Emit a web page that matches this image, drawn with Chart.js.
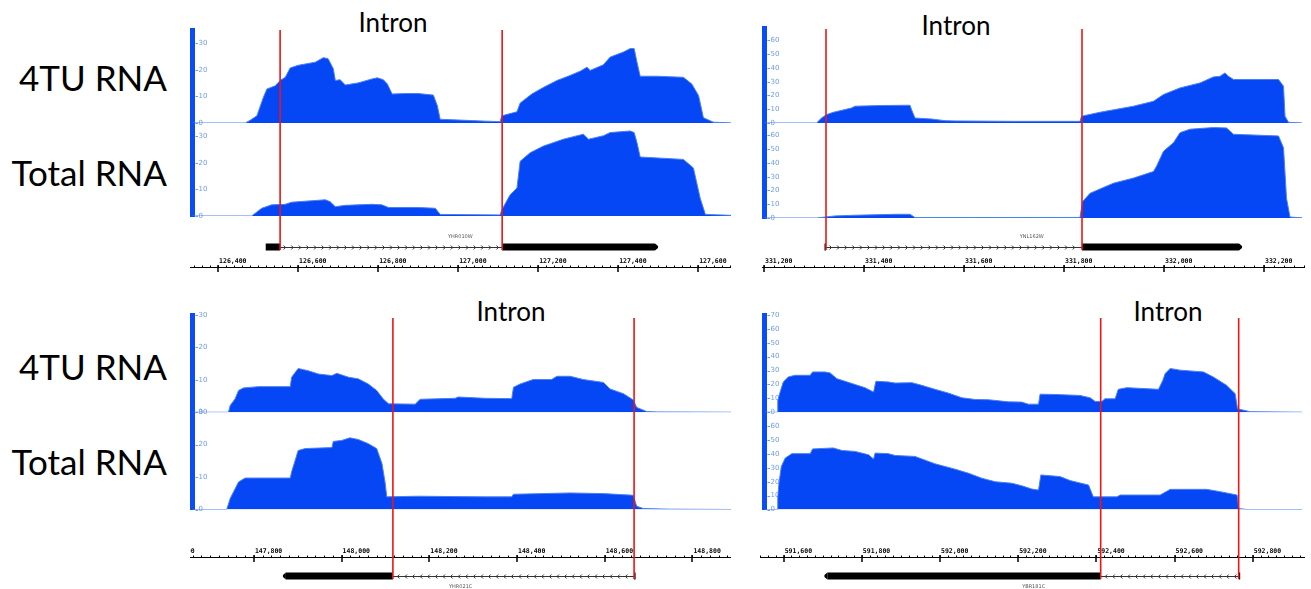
<!DOCTYPE html>
<html>
<head>
<meta charset="utf-8">
<script src="https://cdn.jsdelivr.net/npm/chart.js@4.4.1/dist/chart.umd.min.js"></script>
<style>
  html, body { margin: 0; padding: 0; background: #fff; }
  body { width: 1311px; height: 589px; position: relative; overflow: hidden; font-family: Lato, "Open Sans", sans-serif; }
  canvas { position: absolute; }
  .side { position: absolute; font-size: 35px; line-height: 36px; color: #000; white-space: nowrap; text-align: right; }
  .intron { position: absolute; font-size: 26px; line-height: 26px; color: #000; white-space: nowrap; transform: translateX(-50%); }
</style>
</head>
<body>
<div class="side" style="right:1144px;top:59px">4TU RNA</div>
<div class="side" style="right:1144px;top:154px">Total RNA</div>
<div class="side" style="right:1144px;top:348px">4TU RNA</div>
<div class="side" style="right:1144px;top:443px">Total RNA</div>
<div class="intron" style="left:393px;top:9px">Intron</div>
<div class="intron" style="left:956px;top:12px">Intron</div>
<div class="intron" style="left:511px;top:298px">Intron</div>
<div class="intron" style="left:1168px;top:298px">Intron</div>

<canvas id="pA"></canvas>
<canvas id="pB"></canvas>
<canvas id="pC"></canvas>
<canvas id="pD"></canvas>

<script>
// ── Coverage: [genomic position, read depth] ──
const A_4TU = [[126330,0],[126468,0],[126480,1],[126497,2.7],[126513,9.6],[126522,12.8],[126543,14],[126555,16],[126568,17.2],[126580,20.7],[126600,21.7],[126643,22.9],[126663,24.6],[126675,24.2],[126688,20.4],[126693,16],[126705,16.3],[126718,14.3],[126750,15.1],[126785,16.6],[126798,17],[126813,16.3],[126823,14.7],[126835,10.9],[126868,11.1],[126900,11.1],[126938,10.5],[126948,6.5],[126955,1.4],[127035,0.9],[127068,0.7],[127105,0.5],[127109,2.7],[127147,4.2],[127155,7.5],[127184,10.9],[127213,13.4],[127247,16],[127280,17.9],[127305,19.5],[127322,21],[127330,19.8],[127363,21.9],[127380,24.8],[127413,26.7],[127430,28],[127440,28],[127447,22.9],[127455,17.6],[127497,17.6],[127563,17.2],[127584,14.7],[127601,10.3],[127613,2],[127638,0.3],[127690,0]];
const A_TOTAL = [[126330,0],[126484,0],[126509,2.9],[126534,4.2],[126568,4.4],[126584,5.2],[126668,6.1],[126680,5.4],[126693,3.5],[126718,4],[126784,4.4],[126809,4.2],[126826,3.2],[126901,3.2],[126943,2.9],[126955,0.6],[127105,0.4],[127109,2.3],[127130,8],[127147,10.5],[127155,20.6],[127180,23.8],[127213,26.3],[127263,28.9],[127313,30.8],[127326,28.9],[127363,30.2],[127380,31.4],[127430,32],[127440,31.4],[127447,27.6],[127455,22.2],[127563,21.3],[127588,18.1],[127605,6.7],[127618,0.6],[127690,0.2]];

const B_4TU = [[331195,0],[331305,0],[331315,3.6],[331325,6.1],[331339,7.8],[331375,10.9],[331382,12.2],[331435,12.7],[331492,12.9],[331495,9.8],[331502,3.6],[331535,2.9],[331562,1.7],[331582,1.5],[331700,1.2],[331832,1.2],[331835,4.9],[331872,7.8],[331939,12.2],[331979,15.8],[331999,20.7],[332032,25.5],[332072,29.1],[332099,33.5],[332112,33.9],[332122,36.4],[332129,33.9],[332139,31.6],[332229,31.6],[332239,26.7],[332242,4.9],[332249,0.5],[332280,0]];
const B_TOTAL = [[331195,0],[331305,0],[331322,0.7],[331342,1.5],[331382,2],[331462,2.7],[331492,2.7],[331502,0.3],[331832,0.4],[331837,11.8],[331852,17.9],[331872,21.1],[331899,25.3],[331939,29],[331979,33.8],[331985,37.5],[331999,48.5],[332019,54.7],[332032,62],[332052,64.5],[332099,65.7],[332125,65.4],[332139,60.8],[332229,59.6],[332239,51],[332245,14.3],[332252,0.7],[332280,0]];

const C_4TU = [[147655,0],[147742,0],[147746,2.1],[147757,4.1],[147765,6.7],[147776,7.5],[147810,7.9],[147883,7.9],[147886,10.8],[147901,13.5],[147924,12.8],[147947,11.8],[147978,11.3],[147989,12],[148016,10.8],[148038,10.3],[148061,8.7],[148080,6.7],[148095,4.1],[148107,2.6],[148168,2.5],[148179,4],[148259,4.3],[148266,4.7],[148327,4.3],[148388,4.2],[148392,7.7],[148407,8.7],[148437,10.1],[148479,10.1],[148491,11.1],[148521,11.1],[148551,10.1],[148597,9.2],[148612,7.2],[148643,5.7],[148665,3.8],[148673,1.5],[148696,0.2],[148719,0.1],[148895,0]];
const C_TOTAL = [[147655,0],[147738,0],[147746,3.4],[147765,8.5],[147780,9.7],[147883,9.7],[147886,11.6],[147901,18.2],[147917,18.8],[147978,19.1],[147981,21],[148000,21.3],[148019,22.1],[148038,21.6],[148061,20.3],[148080,18.8],[148092,14.2],[148099,8.5],[148103,3.9],[148175,4.1],[148327,3.9],[148388,3.9],[148392,4.7],[148521,5.1],[148597,4.9],[148665,4.4],[148673,1],[148688,0.3],[148749,0.1],[148895,0]];

const D_4TU = [[591545,0],[591583,0],[591585,8.5],[591591,14.5],[591599,21.8],[591612,25.4],[591629,26.6],[591668,26.6],[591674,29],[591706,29],[591719,28.3],[591736,24.2],[591757,22.3],[591783,19.9],[591808,17.7],[591830,14.5],[591836,22.3],[591868,21.8],[591885,21],[591928,21.3],[591953,19.4],[591987,16.5],[592021,13.8],[592056,10.4],[592090,9.2],[592124,9],[592175,7.5],[592209,7.3],[592226,5.8],[592252,5.8],[592256,13],[592294,12.8],[592358,12.1],[592384,10.4],[592397,7.8],[592414,7.8],[592422,9.7],[592448,9.7],[592456,16.5],[592478,17.7],[592559,16.5],[592570,23],[592576,27.9],[592589,31.5],[592614,30.3],[592674,29],[592699,25.4],[592733,19.4],[592755,13.4],[592761,2.5],[592793,0.4],[592935,0]];
const D_TOTAL = [[591545,0],[591583,0],[591585,9.1],[591588,18.9],[591594,30.9],[591604,37],[591621,40.2],[591668,40.2],[591674,43.6],[591727,44.3],[591749,42.5],[591783,41.8],[591817,39.4],[591830,36.3],[591834,40.6],[591868,40.2],[591885,38.9],[591936,38.2],[591987,32.9],[592039,29],[592073,26.1],[592107,22.5],[592141,20],[592184,18.9],[592209,17.1],[592235,14.7],[592252,14],[592258,24.9],[592307,23.7],[592333,20.8],[592380,17.6],[592392,9.1],[592452,9.1],[592461,10.4],[592563,10.4],[592589,14.5],[592682,14.5],[592717,12.8],[592760,10.4],[592764,0.7],[592785,0],[592935,0]];

// ── Data range ticks ──
const A_TICKS = [0, 10, 20, 30];
const B_TICKS = [0, 10, 20, 30, 40, 50, 60];
const C_TICKS = [0, 10, 20, 30];
const D_TICKS_TOP = [0, 10, 20, 30, 40, 50, 60, 70];
const D_TICKS_BOT = [0, 10, 20, 30, 40, 50, 60];

// ── Ruler ticks (bp) ──
const A_RULER = [126400, 126600, 126800, 127000, 127200, 127400, 127600];
const B_RULER = [331200, 331400, 331600, 331800, 332000, 332200];
const C_RULER = [147600, 147800, 148000, 148200, 148400, 148600, 148800];
const D_RULER = [591600, 591800, 592000, 592200, 592400, 592600, 592800];

// ── Intron borders (red lines) ──
const A_SPLICE = [126555, 127110];
const B_SPLICE = [331324, 331836];
const C_SPLICE = [148117, 148667];
const D_SPLICE = [592411, 592764];

// ── Gene models: exons [start, end] ──
const A_EXONS = [[126519, 126555], [127110, 127492]];
const B_EXONS = [[331321, 331324], [331836, 332150]];
const C_EXONS = [[147873, 148117], [148667, 148670]];
const D_EXONS = [[591712, 592411], [592764, 592767]];

const FILL = "rgb(5, 70, 245)";
const EDGE = "rgb(75, 128, 240)";
const TICK_BLUE = "#6f9be8";

const PANELS = [
  { id: "pA", box: { left: 150, top: 20, width: 590, height: 262 }, area: { left: 192.5, top: 30, right: 731, bottom: 216 },
    xmin: 126336, xmax: 127682, ymax: 35, top: A_4TU, bot: A_TOTAL, ticksTop: A_TICKS, ticksBot: A_TICKS,
    ruler: A_RULER, splice: A_SPLICE, exons: A_EXONS, strand: "+", gene: "YHR010W",
    rulerSpan: [190, 731], rulerY: 267, geneY: 247, geneLabelY: 237, red: [30, 250] },
  { id: "pB", box: { left: 740, top: 20, width: 571, height: 262 }, area: { left: 764.5, top: 28, right: 1302, bottom: 218 },
    xmin: 331201, xmax: 332276, ymax: 69, top: B_4TU, bot: B_TOTAL, ticksTop: B_TICKS, ticksBot: B_TICKS,
    ruler: B_RULER, splice: B_SPLICE, exons: B_EXONS, strand: "+", gene: "YNL162W",
    rulerSpan: [762, 1305], rulerY: 267, geneY: 247, geneLabelY: 237, red: [29, 250] },
  { id: "pC", box: { left: 150, top: 312, width: 590, height: 277 }, area: { left: 192.5, top: 315, right: 731, bottom: 509.5 },
    xmin: 147660, xmax: 148888, ymax: 30, top: C_4TU, bot: C_TOTAL, ticksTop: C_TICKS, ticksBot: C_TICKS,
    ruler: C_RULER, splice: C_SPLICE, exons: C_EXONS, strand: "-", gene: "YHR021C",
    rulerSpan: [190, 731], rulerY: 557, geneY: 576, geneLabelY: 587, red: [318, 579] },
  { id: "pD", box: { left: 740, top: 312, width: 571, height: 277 }, area: { left: 764.5, top: 315, right: 1302, bottom: 509.5 },
    xmin: 591551, xmax: 592926, ymax: 70, top: D_4TU, bot: D_TOTAL, ticksTop: D_TICKS_TOP, ticksBot: D_TICKS_BOT,
    ruler: D_RULER, splice: D_SPLICE, exons: D_EXONS, strand: "-", gene: "YBR181C",
    rulerSpan: [760, 1305], rulerY: 557, geneY: 576, geneLabelY: 587, red: [318, 579] }
];

function yAxis(max, ticks, weight) {
  return {
    type: "linear", position: "left", stack: "tracks", stackWeight: 1, weight,
    min: 0, max,
    afterBuildTicks: s => { s.ticks = ticks.map(v => ({ value: v })); },
    afterFit: s => { s.width = 0; s.paddingTop = 0; s.paddingBottom = 0; },
    grid: { display: false, drawTicks: false },
    border: { display: true, color: "rgb(10, 76, 245)", width: 5 },
    ticks: { mirror: true, autoSkip: false, padding: 6, color: TICK_BLUE, font: { size: 7, family: "'DejaVu Sans'" } },
    z: 1
  };
}

// small dash in front of each data-range label
function drawTickDashes(ctx, chart) {
  ctx.save();
  ctx.strokeStyle = TICK_BLUE;
  ctx.lineWidth = 1;
  ctx.beginPath();
  ["yTop", "yBot"].forEach(id => {
    const s = chart.scales[id];
    s.ticks.forEach(t => {
      const y = Math.round(s.getPixelForValue(t.value)) + 0.5;
      ctx.moveTo(s.right + 3, y);
      ctx.lineTo(s.right + 5.5, y);
    });
  });
  ctx.stroke();
  ctx.restore();
}

// ── Ruler ──
function drawRuler(ctx, xs, p) {
  const l = p.rulerSpan[0] - p.box.left, r = p.rulerSpan[1] - p.box.left;
  const y = p.rulerY - p.box.top;
  ctx.save();
  ctx.beginPath();
  ctx.rect(l, y - 14, r - l, 22);
  ctx.clip();
  ctx.strokeStyle = "#000";
  ctx.lineWidth = 1;
  ctx.beginPath();
  ctx.moveTo(l, y + 0.5);
  ctx.lineTo(r, y + 0.5);
  // minor ticks every 20 bp
  const g0 = Math.ceil(xs.getValueForPixel(l) / 20) * 20;
  for (let g = g0; xs.getPixelForValue(g) <= r; g += 20) {
    const x = Math.round(xs.getPixelForValue(g)) + 0.5;
    ctx.moveTo(x, y - 1.5);
    ctx.lineTo(x, y);
  }
  ctx.stroke();
  ctx.lineWidth = 1.5;
  ctx.beginPath();
  p.ruler.forEach(g => {
    const x = Math.round(xs.getPixelForValue(g));
    ctx.moveTo(x, y - 2);
    ctx.lineTo(x, y + 5);
  });
  ctx.stroke();
  ctx.fillStyle = "#000";
  ctx.font = "bold 6.5px 'DejaVu Sans Mono'";
  ctx.textAlign = "left";
  ctx.textBaseline = "middle";
  p.ruler.forEach(g => {
    ctx.fillText(g.toLocaleString("en-US"), xs.getPixelForValue(g) + 1, y - 6);
  });
  ctx.restore();
}

// ── Gene model ──
function drawGene(ctx, xs, p) {
  const y = p.geneY - p.box.top;
  const px = g => xs.getPixelForValue(g);
  const ex = p.exons;
  const dir = p.strand === "+" ? 1 : -1;
  ctx.save();
  ctx.strokeStyle = "#333";
  ctx.lineWidth = 1;
  ctx.beginPath();
  const iL = px(ex[0][1]), iR = px(ex[1][0]);
  ctx.moveTo(iL, y + 0.5);
  ctx.lineTo(iR, y + 0.5);
  for (let x = iL + 5; x < iR - 3; x += 7.6) {
    ctx.moveTo(x - 1.5 * dir, y - 1.5);
    ctx.lineTo(x + 0.5 * dir, y + 0.5);
    ctx.lineTo(x - 1.5 * dir, y + 2.5);
  }
  ctx.stroke();

  ctx.fillStyle = "#000";
  ex.forEach(([a, b]) => {
    const x0 = px(a), x1 = px(b);
    ctx.fillRect(x0, y - 3.5, Math.max(x1 - x0, 1.5), 7);
  });
  // pointed 3' end
  ctx.beginPath();
  if (dir > 0) {
    const xe = px(ex[ex.length - 1][1]);
    ctx.moveTo(xe, y - 3.5); ctx.lineTo(xe + 3, y - 1); ctx.lineTo(xe + 3, y + 1); ctx.lineTo(xe, y + 3.5);
  } else {
    const xs0 = px(ex[0][0]);
    ctx.moveTo(xs0, y - 3.5); ctx.lineTo(xs0 - 3, y - 1); ctx.lineTo(xs0 - 3, y + 1); ctx.lineTo(xs0, y + 3.5);
  }
  ctx.fill();

  ctx.fillStyle = "#555";
  ctx.font = "5px 'DejaVu Sans'";
  ctx.textAlign = "center";
  ctx.textBaseline = "middle";
  ctx.fillText(p.gene, (px(ex[0][0]) + px(ex[ex.length - 1][1])) / 2, p.geneLabelY - p.box.top);
  ctx.restore();
}

// ── Red intron borders ──
function drawSplice(ctx, xs, p) {
  ctx.save();
  ctx.strokeStyle = "rgb(240, 20, 20)";
  ctx.lineWidth = 1.6;
  ctx.beginPath();
  p.splice.forEach(g => {
    const x = xs.getPixelForValue(g);
    ctx.moveTo(x, p.red[0] - p.box.top);
    ctx.lineTo(x, p.red[1] - p.box.top);
  });
  ctx.stroke();
  ctx.restore();
}

function makePanel(p) {
  const cv = document.getElementById(p.id);
  cv.width = p.box.width;
  cv.height = p.box.height;
  cv.style.left = p.box.left + "px";
  cv.style.top = p.box.top + "px";

  const track = (pts, axis) => ({
    data: pts.map(([x, y]) => ({ x, y })),
    yAxisID: axis,
    backgroundColor: FILL,
    borderColor: EDGE,
    borderWidth: 1,
    fill: "origin",
    pointRadius: 0,
    tension: 0
  });

  new Chart(cv, {
    type: "line",
    data: { datasets: [track(p.top, "yTop"), track(p.bot, "yBot")] },
    options: {
      responsive: false,
      maintainAspectRatio: false,
      animation: false,
      devicePixelRatio: 1,
      events: [],
      layout: {
        padding: {
          left: p.area.left - p.box.left,
          top: p.area.top - p.box.top,
          right: p.box.left + p.box.width - p.area.right,
          bottom: p.box.top + p.box.height - p.area.bottom
        }
      },
      plugins: { legend: { display: false }, tooltip: { enabled: false } },
      scales: {
        x: {
          type: "linear", min: p.xmin, max: p.xmax, display: false,
          afterFit: s => { s.height = 0; s.paddingLeft = 0; s.paddingRight = 0; }
        },
        yBot: yAxis(p.ymax, p.ticksBot, 1),
        yTop: yAxis(p.ymax, p.ticksTop, 2)
      }
    },
    plugins: [{
      id: "igvDecor",
      afterDraw(chart) {
        const xs = chart.scales.x;
        drawTickDashes(chart.ctx, chart);
        drawRuler(chart.ctx, xs, p);
        drawGene(chart.ctx, xs, p);
        drawSplice(chart.ctx, xs, p);
      }
    }]
  });
}

PANELS.forEach(makePanel);
</script>
</body>
</html>
